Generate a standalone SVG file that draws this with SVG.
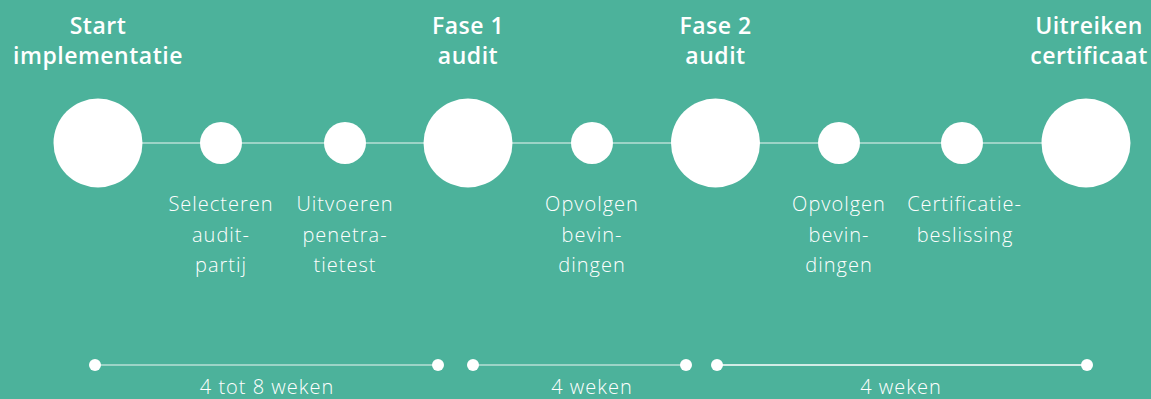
<svg xmlns="http://www.w3.org/2000/svg" width="1151" height="399" viewBox="0 0 1151 399">
<style>
.t{font-family:"Open Sans","Noto Sans",sans-serif;font-weight:600;font-size:23px;fill:#fff;text-anchor:middle;letter-spacing:0.5px}
.s{font-family:"Open Sans","Noto Sans",sans-serif;font-weight:300;font-size:20px;fill:#fff;text-anchor:middle;letter-spacing:1px}
.big{fill:#fff}
.ln{stroke:#fff;stroke-opacity:0.6;stroke-width:1.6;fill:none}
.dot{fill:#fff}
</style>
<rect width="1151" height="399" fill="#4cb29b"/>
<g id="connectors">
<line class="ln" x1="98" y1="143" x2="1086" y2="143"/>
<line class="ln" x1="95" y1="365" x2="438" y2="365"/>
<line class="ln" x1="473" y1="365" x2="686" y2="365"/>
<line class="ln" x1="717" y1="365" x2="1087" y2="365" style="stroke-opacity:1"/>
</g>
<g id="start"><circle class="big" cx="98" cy="143" r="44.5"/><text class="t" x="98" y="34">Start</text><text class="t" x="98" y="64">implementatie</text></g>
<g id="selecteren"><circle class="big" cx="221" cy="143" r="21"/><text class="s" x="221" y="211">Selecteren</text><text class="s" x="221" y="242">audit-</text><text class="s" x="221" y="272">partij</text></g>
<g id="uitvoeren"><circle class="big" cx="345" cy="143" r="21"/><text class="s" x="345" y="211">Uitvoeren</text><text class="s" x="345" y="242">penetra-</text><text class="s" x="345" y="272">tietest</text></g>
<g id="fase1"><circle class="big" cx="468" cy="143" r="44.5"/><text class="t" x="468" y="34">Fase 1</text><text class="t" x="468" y="64">audit</text></g>
<g id="opvolgen1"><circle class="big" cx="592" cy="143" r="21"/><text class="s" x="592" y="211">Opvolgen</text><text class="s" x="592" y="242">bevin-</text><text class="s" x="592" y="272">dingen</text></g>
<g id="fase2"><circle class="big" cx="715.5" cy="143" r="44.5"/><text class="t" x="715.5" y="34">Fase 2</text><text class="t" x="715.5" y="64">audit</text></g>
<g id="opvolgen2"><circle class="big" cx="839" cy="143" r="21"/><text class="s" x="839" y="211">Opvolgen</text><text class="s" x="839" y="242">bevin-</text><text class="s" x="839" y="272">dingen</text></g>
<g id="certificatie"><circle class="big" cx="962" cy="143" r="21"/><text class="s" x="964.5" y="211">Certificatie-</text><text class="s" x="965" y="242">beslissing</text></g>
<g id="uitreiken"><circle class="big" cx="1086" cy="143" r="44.5"/><text class="t" x="1089" y="34">Uitreiken</text><text class="t" x="1089" y="64">certificaat</text></g>
<g id="periode1"><circle class="dot" cx="95" cy="365" r="6"/><circle class="dot" cx="438" cy="365" r="6"/><text class="s" x="267" y="394">4 tot 8 weken</text></g>
<g id="periode2"><circle class="dot" cx="473" cy="365" r="6"/><circle class="dot" cx="686" cy="365" r="6"/><text class="s" x="592" y="394">4 weken</text></g>
<g id="periode3"><circle class="dot" cx="717" cy="365" r="6"/><circle class="dot" cx="1087" cy="365" r="6"/><text class="s" x="901" y="394">4 weken</text></g>
</svg>
